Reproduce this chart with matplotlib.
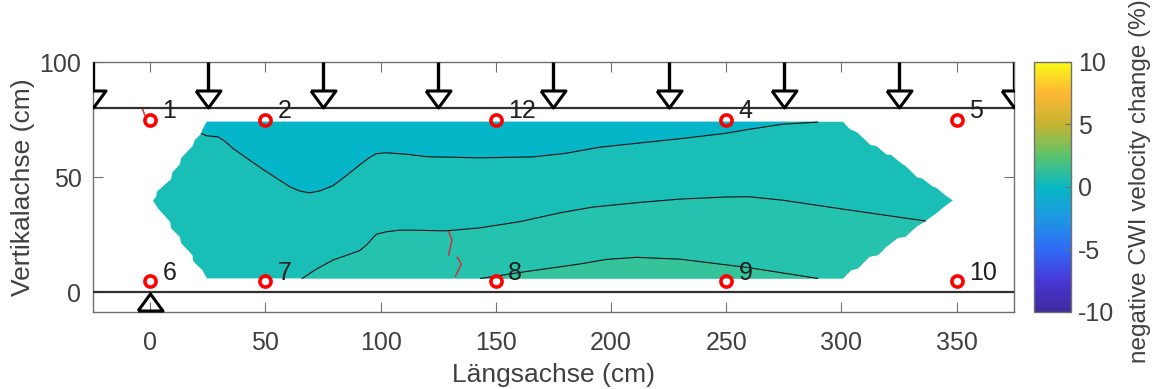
import matplotlib
matplotlib.use("Agg")
import matplotlib.pyplot as plt
from matplotlib.colors import LinearSegmentedColormap, Normalize
from matplotlib.cm import ScalarMappable
from matplotlib.patches import Polygon

plt.rcParams['font.family'] = ['Liberation Sans', 'DejaVu Sans']
plt.rcParams['axes.unicode_minus'] = False

# measurement outline of the plotted area
outline_x = [24.6, 22.6, 22.2, 19.3, 18.5, 13.5, 12.8, 9.6, 9.1, 2.9, 2.6, 1.2, 3.4, 6.7, 8.7, 9.1, 12.8, 13.5,
             18.3, 18.8, 22.6, 24.6,
             300.7, 304.3, 307.2, 312.2, 315.9, 319.5, 324.5, 327.7, 332.5, 336.4, 341.2, 345.5, 348.4,
             345.5, 341.2, 339.7, 334.95, 332.9, 327.7, 326.7, 321.6, 319.5, 315.1, 312.7, 306.9, 303.6, 300.7]
outline_y = [74.06, 70.4, 69, 66.1, 63.6, 58.4, 55.5, 52.1, 49.2, 43.7, 41.5, 39.9, 36.4, 32.8, 30.4, 27.8, 24.1, 21.3,
             16.2, 13.3, 9.7, 6.05,
             6.05, 9.7, 10.4, 15.5, 16.2, 19.8, 23.7, 24.1, 28.5, 30.9, 34.3, 37.9, 39.9,
             41.8, 45.4, 45.9, 49.5, 49.9, 55, 55.5, 59.6, 59.9, 63.6, 63.9, 69.4, 70.9, 74.06]

# contour lines
top_x = [22.2, 24.3, 29.4, 32.3, 35.9, 43.1, 50.4, 56.2, 60.5, 64.8, 69.2, 73.5, 79.3, 83.6, 89.4, 94.5, 98.1, 102.5,
         111.9, 120, 143, 166, 180.6, 195, 212, 230, 249.4, 260, 274.6, 289.7]
top_y = [69, 68, 67.5, 65.7, 62.5, 57.4, 52.4, 48.7, 45.9, 44, 43.2, 44, 46.3, 49.5, 54.1, 58.1, 60.2, 60.6,
         59.9, 58.9, 58.4, 58.8, 60.4, 63, 64.8, 66.7, 69, 70.8, 73, 73.9]
mid_x = [66, 72.1, 79.3, 90.9, 93.8, 98.1, 102.5, 108.2, 112.6, 128.5, 143, 160, 177.7, 192, 212, 230, 250, 260, 274.6, 303.6, 336.4]
mid_y = [6.05, 10.1, 14, 18.1, 20.5, 25.2, 26.3, 27, 27, 26.7, 28, 30.6, 34.5, 37, 39, 40.5, 41.4, 41.5, 40, 35.7, 31]
low_x = [143.4, 163, 186.4, 198, 211, 230, 260, 289.7]
low_y = [6.05, 9, 12.3, 14.3, 15.2, 14.4, 10.7, 6.05]

# cracks
crack_lines = [
    ([129.6, 131, 129.5], [26.3, 22.7, 16.2]),
    ([133.3, 135, 132.5], [15.2, 12.3, 7]),
    ([-3.4, -2.4], [79.8, 77]),
]

# sensors
sensor_x = [0, 50, 150, 250, 350, 0, 50, 150, 250, 350]
sensor_y = [75, 75, 75, 75, 75, 5, 5, 5, 5, 5]
sensor_names = ['1', '2', '12', '4', '5', '6', '7', '8', '9', '10']

load_x = [-25, 25, 75, 125, 175, 225, 275, 325, 375]
support_x = [0]

x_ticks = [0, 50, 100, 150, 200, 250, 300, 350]
y_ticks = [0, 50, 100]
cbar_ticks = [-10, -5, 0, 5, 10]

parula = LinearSegmentedColormap.from_list('parula', [
    '#3E2A9F', '#4738D8', '#2F6CF8', '#1E98E2', '#07B8C2', '#5CC46C',
    '#C6B532', '#FDB733', '#F9FB15'])

TEXT = '#404040'
EDGE = '#707070'

fig = plt.figure(figsize=(11.52, 3.89), dpi=100)
ax = fig.add_axes([92.6 / 1152, 1 - 311.7 / 389, 921.6 / 1152, 249.7 / 389])
ax.set_xlim(-25, 375)
ax.set_ylim(-8.4, 100)

area = Polygon(list(zip(outline_x, outline_y)), closed=True, facecolor='#19BFB7', edgecolor='none', zorder=1)
ax.add_patch(area)
for xs, ys, base, col in [(top_x, top_y, 80, '#04B6C8'), (mid_x, mid_y, 0, '#25C2AE'), (low_x, low_y, 0, '#35C49A')]:
    band = ax.fill_between(xs, ys, base, color=col, linewidth=0, zorder=1.5)
    band.set_clip_path(area)
for xs, ys in [(top_x, top_y), (mid_x, mid_y), (low_x, low_y)]:
    ax.plot(xs, ys, color='#111111', lw=0.8, zorder=2)

for xs, ys in crack_lines:
    ax.plot(xs, ys, color='#C83535', lw=1.1, zorder=3)

ax.axhline(80, color='#303030', lw=1.6, zorder=3)
ax.axhline(0, color='#303030', lw=1.6, zorder=3)

down = [(-12.5, 8.5), (12.5, 8.5), (0, -8.5), (-12.5, 8.5)]
up = [(-12.5, -8.5), (12.5, -8.5), (0, 8.5), (-12.5, -8.5)]
for x in load_x:
    ax.plot([x, x], [100, 88], color='black', lw=2.4, zorder=4, solid_capstyle='butt')
    ax.plot([x], [84], marker=down, ms=18, mfc='none', mec='black', mew=2.2, zorder=4)
for x in support_x:
    ax.plot([x], [-4], marker=up, ms=18, mfc='none', mec='black', mew=2.2, zorder=4)

ax.plot(sensor_x, sensor_y, 'o', ms=8, mfc='none', mec='#FF0000', mew=2.6, zorder=5)
for x, y, name in zip(sensor_x, sensor_y, sensor_names):
    ax.text(x + 5.3, y + 3.6, name, fontsize=18, color='#202020', ha='left', va='center', zorder=6)

ax.set_xticks(x_ticks)
ax.set_yticks(y_ticks)
ax.tick_params(direction='in', length=7, width=0.8, color=EDGE, labelcolor=TEXT,
               labelsize=18, top=True, right=True)
ax.tick_params(axis='x', pad=14)
ax.tick_params(axis='y', pad=8)
for s in ax.spines.values():
    s.set_color(EDGE)
    s.set_linewidth(1.0)
ax.set_xlabel('Längsachse (cm)', fontsize=19, color=TEXT, labelpad=6)
ax.set_ylabel('Vertikalachse (cm)', fontsize=19, color=TEXT, labelpad=3)

cax = fig.add_axes([1033.7 / 1152, 1 - 311.7 / 389, 37.6 / 1152, 250 / 389])
sm = ScalarMappable(norm=Normalize(-10, 10), cmap=parula)
cb = fig.colorbar(sm, cax=cax, ticks=cbar_ticks)
cb.ax.tick_params(direction='in', length=4, width=0.8, color=EDGE, labelcolor=TEXT, labelsize=18, pad=5)
cb.outline.set_edgecolor(EDGE)
cb.outline.set_linewidth(1.0)
fig.text(1140 / 1152, 1 - 181 / 389, 'negative CWI velocity change (%)', rotation=90, fontsize=17.5,
         color=TEXT, ha='center', va='center')

fig.savefig('out.png', dpi=100)
